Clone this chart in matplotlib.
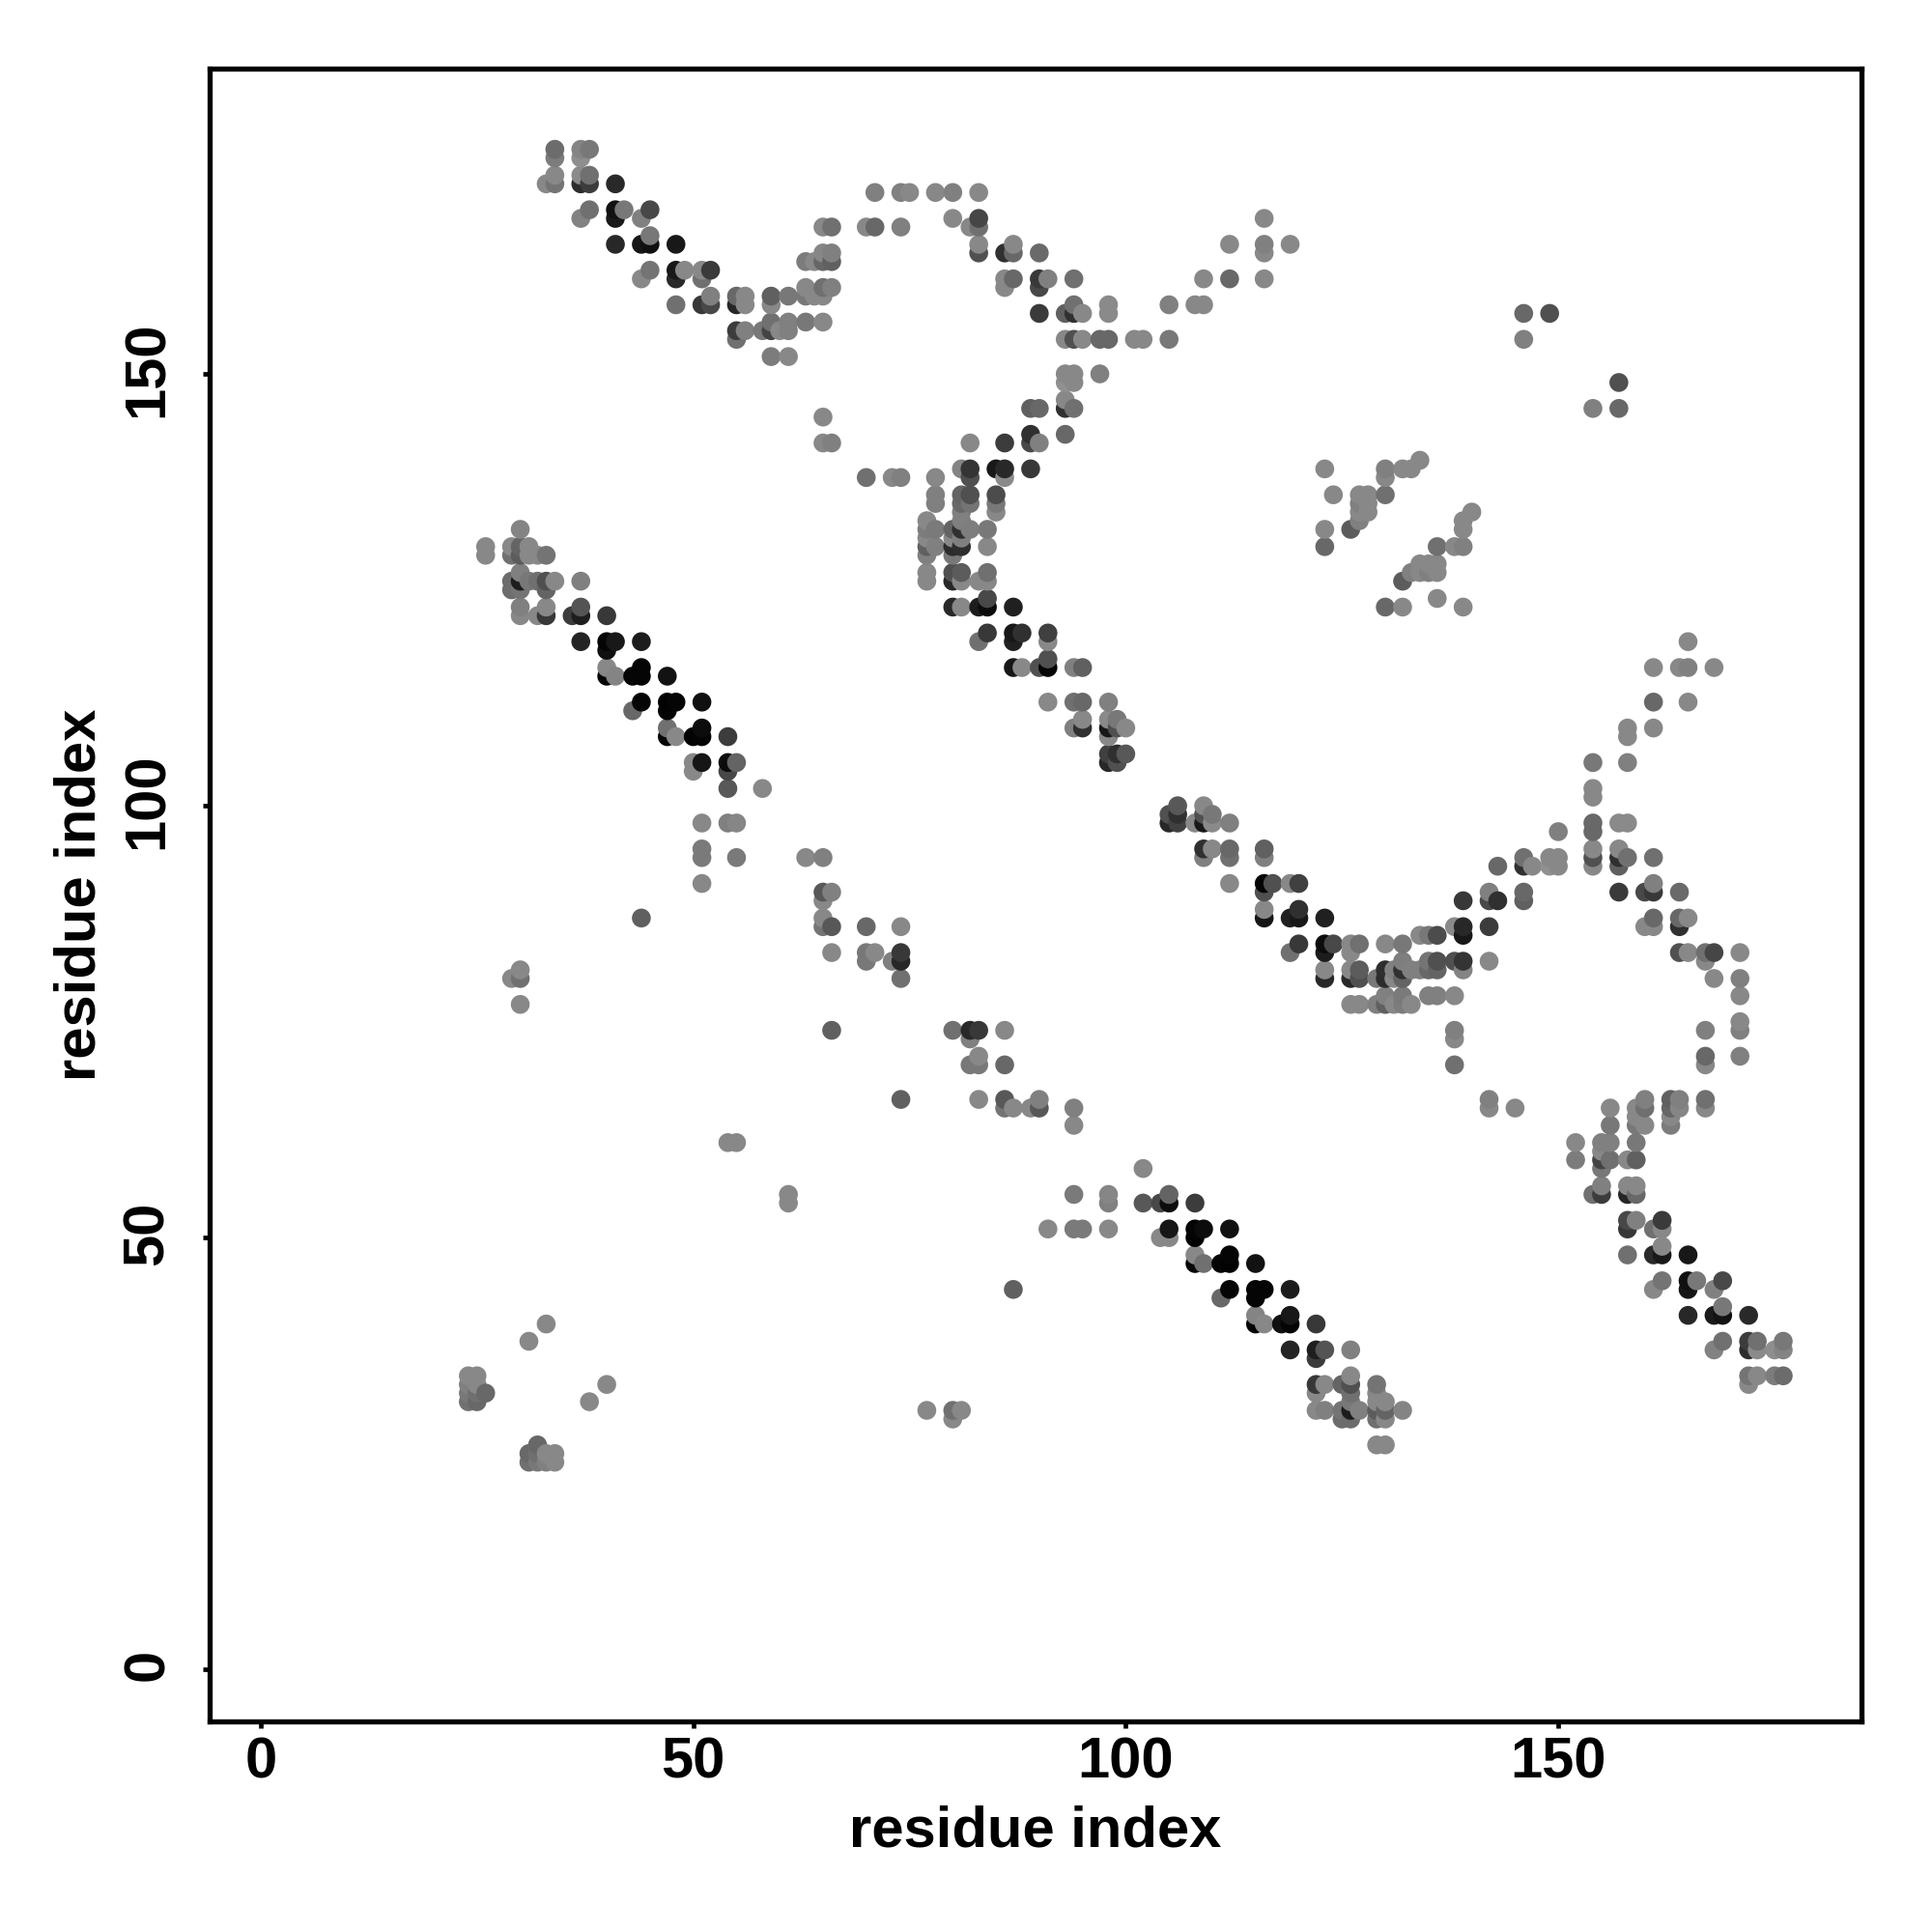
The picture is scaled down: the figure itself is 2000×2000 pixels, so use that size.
import numpy as np
import matplotlib
matplotlib.use('Agg')
import matplotlib.pyplot as plt
from matplotlib.transforms import ScaledTranslation

plt.rcParams['font.family'] = ['Liberation Sans', 'DejaVu Sans']

# contacts above the diagonal, the map is symmetric so the other half is mirrored
contact_i = [
    24, 24, 24, 24, 25, 25, 25, 25, 26, 26, 26,
    29, 29, 29, 29, 29,
    30, 30, 30, 30, 30, 30, 30, 30, 30, 30, 30,
    31, 31, 31, 31, 32, 32, 32,
    33, 33, 33, 33, 33, 33, 33,
    34, 34, 34, 34, 34, 36,
    37, 37, 37, 37, 37, 37, 37, 37, 37,
    38, 38, 38, 38,
    40, 40, 40, 40, 40,
    41, 41, 41, 41, 41, 41, 42, 43, 43,
    44, 44, 44, 44, 44, 44, 44, 44,
    45, 45, 45, 45,
    47, 47, 47, 47, 47,
    48, 48, 48, 48, 48, 48, 49, 50, 50, 50,
    51, 51, 51, 51, 51, 51, 51, 51, 51, 51, 51,
    52, 52, 52,
    54, 54, 54, 54, 54, 54,
    55, 55, 55, 55, 55, 55, 55, 55,
    56, 56, 56, 58, 58,
    59, 59, 59, 59, 59, 60, 61, 61, 61, 61,
    63, 63, 63, 63, 63, 64, 64,
    65, 65, 65, 65, 65, 65, 65, 65, 65, 65, 65, 65, 65,
    66, 66, 66, 66, 66, 66, 66, 66, 66,
    70, 70, 70, 70, 70, 71, 71, 71, 73, 73,
    74, 74, 74, 74, 74, 74, 74, 75,
    77, 77, 77, 77, 77, 77, 77,
    78, 78, 78, 78, 78, 78,
    80, 80, 80, 80, 80, 80, 80, 80, 80,
    81, 81, 81, 81, 81, 81, 81, 81, 81, 81, 81,
    82, 82, 82, 82, 82, 82, 82,
    83, 83, 83, 83, 83, 83, 83, 83,
    84, 84, 84, 84, 84, 84, 84,
    85, 85, 85, 85,
    86, 86, 86, 86, 86, 86,
    87, 87, 87, 87, 87, 87, 87, 88, 88,
    89, 89, 89, 89,
    90, 90, 90, 90, 90, 90, 90,
    91, 91, 91, 91, 91, 91,
    93, 93, 93, 93, 93, 93, 93,
    94, 94, 94, 94, 94, 94, 94, 94, 94, 94,
    95, 95, 95, 95, 95, 95, 97, 97,
    98, 98, 98, 98, 98, 98, 98, 98, 98,
    99, 99, 99, 99, 100, 100, 101, 102, 105, 105,
    108, 109, 109, 112, 112, 116, 116, 116, 116, 119,
    123, 123, 123, 124, 126, 127, 127, 127, 127, 128, 128, 128,
    130, 130, 130, 132, 133, 134, 146, 146, 149,
]
contact_j = [
    31, 32, 33, 34, 31, 32, 33, 34, 32, 129, 130,
    80, 125, 126, 129, 130,
    77, 80, 81, 122, 123, 125, 126, 127, 129, 130, 132,
    38, 126, 129, 130, 122, 126, 129,
    40, 122, 123, 125, 126, 129, 172,
    126, 172, 173, 175, 176, 122,
    119, 122, 123, 126, 168, 172, 173, 175, 176,
    169, 172, 173, 176,
    115, 116, 118, 119, 122,
    115, 119, 165, 168, 169, 172, 169, 111, 115,
    87, 112, 115, 116, 119, 161, 165, 168,
    162, 165, 166, 169,
    108, 109, 111, 112, 115,
    108, 112, 158, 161, 162, 165, 162, 104, 105, 108,
    91, 94, 95, 98, 105, 108, 109, 112, 158, 161, 162,
    158, 159, 162,
    61, 98, 102, 104, 105, 108,
    61, 94, 98, 105, 154, 155, 158, 159,
    155, 158, 159, 102, 155,
    152, 155, 156, 158, 159, 155, 152, 155, 156, 159,
    94, 156, 159, 160, 163, 159, 163,
    86, 87, 89, 90, 94, 142, 145, 156, 159, 160, 163, 164, 167,
    74, 83, 86, 90, 142, 160, 163, 164, 167,
    82, 83, 86, 138, 167, 83, 167, 171, 82, 138,
    80, 82, 83, 86, 138, 167, 171, 171,
    126, 127, 129, 130, 131, 132, 133,
    130, 132, 135, 136, 138, 171,
    123, 126, 127, 129, 130, 131, 132, 168, 171,
    123, 126, 127, 130, 131, 132, 133, 134, 135, 136, 139,
    132, 135, 136, 138, 139, 142, 167,
    119, 123, 126, 164, 165, 167, 168, 171,
    120, 123, 124, 126, 127, 130, 132,
    134, 135, 136, 139,
    138, 139, 142, 160, 161, 164,
    116, 119, 120, 123, 161, 164, 165, 116, 120,
    139, 142, 143, 146,
    116, 142, 146, 157, 160, 161, 164,
    112, 116, 117, 119, 120, 161,
    143, 146, 147, 149, 150, 154, 157,
    109, 112, 116, 146, 149, 150, 154, 157, 158, 161,
    109, 110, 112, 116, 154, 157, 150, 154,
    105, 106, 108, 109, 110, 112, 154, 157, 158,
    105, 106, 109, 110, 106, 109, 154, 154, 154, 158,
    158, 158, 161, 161, 165, 161, 164, 165, 168, 165,
    130, 132, 139, 136, 132, 133, 134, 135, 136, 134, 135, 136,
    136, 138, 139, 139, 139, 140, 154, 157, 157,
]
contact_shade = [
    112, 120, 128, 136, 104, 112, 136, 136, 104, 136, 136,
    136, 108, 108, 112, 136,
    136, 112, 136, 136, 128, 116, 28, 128, 92, 100, 132,
    136, 120, 136, 136, 136, 112, 136,
    136, 56, 136, 100, 80, 116, 136,
    136, 116, 136, 124, 108, 60,
    36, 30, 84, 128, 130, 44, 138, 142, 132,
    112, 60, 112, 120,
    5, 136, 16, 5, 56,
    132, 24, 40, 26, 18, 41, 120, 104, 5,
    96, 5, 5, 5, 28, 136, 22, 128,
    116, 16, 120, 72,
    5, 112, 5, 2, 18,
    136, 5, 112, 42, 24, 24, 136, 136, 136, 2,
    136, 122, 122, 136, 22, 4, 12, 16, 56, 112, 136,
    72, 128, 58,
    136, 128, 88, 72, 12, 60,
    136, 122, 134, 100, 112, 60, 38, 104,
    128, 136, 136, 136, 120,
    124, 68, 112, 136, 96, 136, 136, 128, 128, 120,
    136, 120, 120, 136, 124, 136, 136,
    116, 136, 136, 88, 128, 136, 136, 136, 136, 112, 102, 134, 136,
    96, 136, 88, 128, 128, 128, 96, 128, 112,
    120, 120, 104, 112, 136, 136, 104, 128, 128, 136,
    112, 40, 56, 136, 128, 128, 128, 136,
    136, 136, 128, 96, 136, 124, 136,
    128, 122, 128, 128, 136, 136,
    40, 40, 80, 120, 44, 136, 100, 136, 128,
    136, 136, 92, 46, 128, 48, 128, 128, 104, 100, 132,
    126, 116, 80, 80, 52, 136, 136,
    112, 28, 136, 80, 136, 112, 70, 136,
    56, 12, 72, 136, 112, 136, 120,
    136, 120, 76, 24,
    138, 40, 60, 136, 136, 48,
    22, 32, 24, 32, 104, 104, 136, 136, 48,
    56, 72, 48, 96,
    80, 128, 104, 58, 72, 56, 106,
    136, 5, 80, 136, 64, 128,
    104, 48, 136, 144, 136, 136, 96,
    128, 112, 128, 112, 136, 136, 80, 48, 112, 112,
    48, 136, 104, 96, 136, 136, 128, 104,
    40, 64, 136, 24, 138, 128, 104, 138, 138,
    80, 48, 80, 120, 88, 136, 136, 136, 120, 128,
    136, 136, 136, 104, 136, 136, 136, 128, 136, 136,
    104, 136, 136, 136, 92, 128, 136, 128, 136, 136, 136, 136,
    112, 136, 128, 136, 136, 136, 128, 104, 80,
]

tick_values = [0, 50, 100, 150]

# mirror the half and draw in order of x then y, later dots cover earlier ones
i = np.array(contact_i)
j = np.array(contact_j)
shade = np.array(contact_shade) / 255
x = np.concatenate([i, j])
y = np.concatenate([j, i])
grey = np.concatenate([shade, shade])
order = np.lexsort((y, x))

fig = plt.figure(figsize=(20, 20), dpi=100)
ax = fig.add_axes([216.8 / 2000, 1 - 1781.9 / 2000, 1710.5 / 2000, 1710.5 / 2000])
ax.scatter(x[order], y[order], s=198, c=grey[order], cmap='gray', vmin=0, vmax=1,
           linewidths=0, clip_on=True)

ax.set_xlim(-5.93, 185.08)
ax.set_ylim(-6.0, 185.3)
ax.set_xticks(tick_values)
ax.set_yticks(tick_values)
ax.set_xticklabels([str(t) for t in tick_values], fontsize=43, fontweight='bold')
ax.set_yticklabels([str(t) for t in tick_values], fontsize=43, fontweight='bold',
                   rotation=90, va='center')
ax.tick_params(axis='both', length=5, width=3.4)
ax.tick_params(axis='x', pad=6)
ax.tick_params(axis='y', pad=21)
ax.set_xlabel('residue index', fontsize=43, fontweight='bold', labelpad=12)
ax.set_ylabel('residue index', fontsize=43, fontweight='bold', labelpad=11)
for spine in ax.spines.values():
    spine.set_linewidth(3.8)

# rotated labels sit a little low, nudge them up
nudge = ScaledTranslation(0, 3.4 / 72, fig.dpi_scale_trans)
for label in ax.get_yticklabels():
    label.set_transform(label.get_transform() + nudge)

plt.savefig('out.png', dpi=100)
